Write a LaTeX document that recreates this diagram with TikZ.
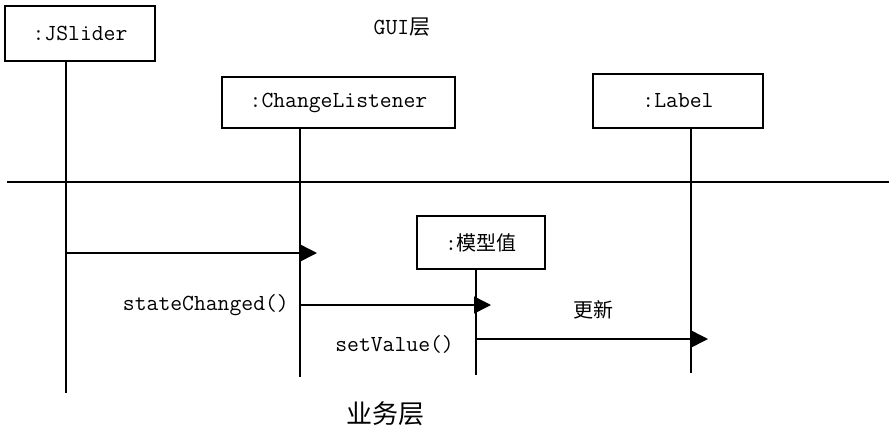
\documentclass[tikz,border=0pt]{standalone}
\usepackage{fontspec}
\newfontfamily\cjk{Noto Sans CJK SC}
\usetikzlibrary{arrows.meta,calc}
\newcommand\monofnt{\ttfamily\fontsize{23}{27}\selectfont\addfontfeature{FakeBold=1.2}}
\begin{document}
\begin{tikzpicture}[x=1pt,y=-1pt,
  obj/.style={draw, line width=1.5pt, inner sep=0pt, font=\monofnt},
  life/.style={line width=1.5pt},
  msg/.style={line width=1.5pt, -{Triangle[length=17pt,width=17pt]}},
  lbl/.style={inner sep=0pt, font=\monofnt},
  cjklbl/.style={inner sep=0pt, font=\cjk\fontsize{20}{24}\selectfont}]
\useasboundingbox (0,0) rectangle (889,432);
% objects
\node[obj, minimum width=150pt, minimum height=55pt] (js) at (80,33.5) {:JSlider};
\node[obj, minimum width=233pt, minimum height=51pt] (cl) at (338.5,102.5) {:ChangeListener};
\node[obj, minimum width=170pt, minimum height=54pt] (lb) at (678,101) {:Label};
\node[obj, minimum width=128pt, minimum height=53pt] (mv) at (481,242.5) {:{\cjk\fontsize{20}{24}\selectfont 模型值}};
% layer labels
\node[lbl] (gui) at (402,27) {GUI{\cjk\fontsize{21}{24}\selectfont 层}};
\node[cjklbl, font=\cjk\fontsize{26}{30}\selectfont] (biz) at (385,414) {业务层};
% separator
\coordinate (sepl) at (7,182);
\coordinate (sepr) at (889,182);
\draw[life] (sepl) -- (sepr);
% lifelines
\coordinate (jsb) at (66,393);
\coordinate (clb) at (300,377);
\coordinate (lbb) at (691,373);
\coordinate (mvb) at (476,375);
\draw[life] (js.south -| jsb) -- (jsb);
\draw[life] (cl.south -| clb) -- (clb);
\draw[life] (lb.south -| lbb) -- (lbb);
\draw[life] (mv.south -| mvb) -- (mvb);
% messages
\draw[msg] (jsb |- 0,253) -- ($(clb |- 0,253)+(17,0)$);
\draw[msg] (clb |- 0,305) -- ($(mvb |- 0,305)+(15,0)$);
\draw[msg] (mvb |- 0,339) -- ($(lbb |- 0,339)+(17,0)$);
% message labels
\node[lbl, anchor=east] (m1) at (289,305) {stateChanged()};
\node[lbl, anchor=east] (m2) at (454,344) {setValue()};
\node[cjklbl] (m3) at (593,310) {更新};
\end{tikzpicture}
\end{document}
